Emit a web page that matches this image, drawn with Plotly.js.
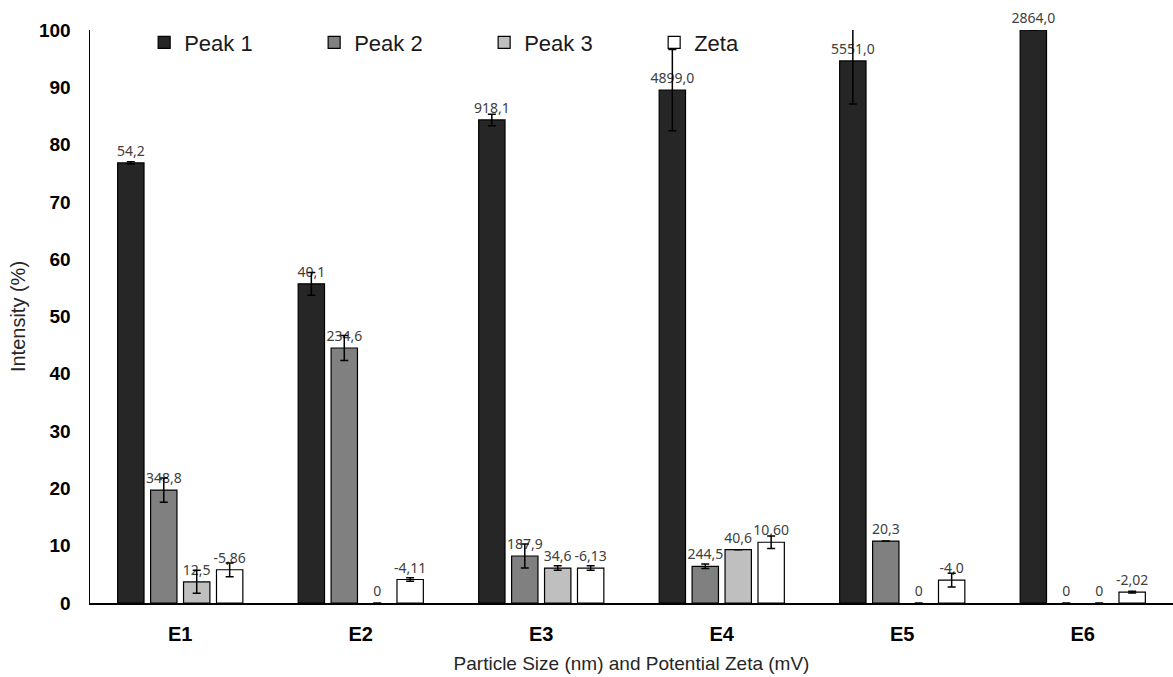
<!DOCTYPE html>
<html>
<head>
<meta charset="utf-8">
<script src="https://cdn.plot.ly/plotly-3.0.1.min.js"></script>
<style>html,body{margin:0;padding:0;background:#fff;}#chart{width:1173px;height:677px;}</style>
</head>
<body>
<div id="chart"></div>
<script>
const categories = ["E1", "E2", "E3", "E4", "E5", "E6"];
const seriesNames = ["Peak 1", "Peak 2", "Peak 3", "Zeta"];

const peak1 = [76.8, 55.7, 84.3, 89.5, 94.6, 100];
const peak1Err = [0.2, 2.0, 1.0, 7.1, 7.5, 0];
const peak1Labels = ["54,2", "40,1", "918,1", "4899,0", "5551,0", "2864,0"];

const peak2 = [19.7, 44.5, 8.2, 6.4, 10.8, 0];
const peak2Err = [2.1, 2.2, 2.1, 0.4, 0, 0];
const peak2Labels = ["348,8", "234,6", "187,9", "244,5", "20,3", "0"];

const peak3 = [3.7, 0, 6.1, 9.3, 0, 0];
const peak3Err = [2.0, 0, 0.4, 0, 0, 0];
const peak3Labels = ["12,5", "0", "34,6", "40,6", "0", "0"];

const zeta = [5.8, 4.1, 6.1, 10.6, 4.0, 1.9];
const zetaErr = [1.2, 0.3, 0.4, 1.1, 1.2, 0.15];
const zetaLabels = ["-5,86", "-4,11", "-6,13", "10,60", "-4,0", "-2,02"];

const colors = ["#262626", "#808080", "#bfbfbf", "#ffffff"];
const values = [peak1, peak2, peak3, zeta];
const errs = [peak1Err, peak2Err, peak3Err, zetaErr];
const labels = [peak1Labels, peak2Labels, peak3Labels, zetaLabels];

const traces = seriesNames.map((name, i) => ({
  type: "bar",
  name: name,
  x: categories,
  y: values[i],
  text: labels[i],
  texttemplate: "%{text}",
  textposition: "outside",
  constraintext: "none",
  cliponaxis: false,
  textfont: {family: "'Noto Sans', 'Open Sans', sans-serif", size: 14, color: "#404040"},
  marker: {color: colors[i], line: {color: "#000000", width: values[i].map(v => v > 0 ? 1.2 : 0)}},
  error_y: {type: "data", array: errs[i], visible: true, color: "#000000", thickness: 1.5, width: 4},
  hoverinfo: "skip"
}));

const layout = {
  width: 1173,
  height: 677,
  margin: {l: 90, r: 0, t: 30, b: 74},
  paper_bgcolor: "#ffffff",
  plot_bgcolor: "#ffffff",
  barmode: "group",
  bargap: 0.27,
  bargroupgap: 0.2,
  showlegend: true,
  legend: {
    orientation: "h",
    x: 0.05, xanchor: "left",
    y: 0.978, yanchor: "middle",
    font: {family: "Liberation Sans, Arial, sans-serif", size: 22, color: "#1a1a1a"},
    entrywidth: 125, entrywidthmode: "pixels",
    itemwidth: 30,
    bgcolor: "rgba(0,0,0,0)",
    traceorder: "normal"
  },
  xaxis: {
    type: "category",
    range: [-0.5, 5.5],
    showline: true, linecolor: "#000000", linewidth: 1.5,
    showgrid: false, zeroline: false,
    ticks: "outside", ticklen: 12, tickcolor: "rgba(0,0,0,0)",
    tickfont: {family: "Liberation Sans, Arial, sans-serif", size: 20, color: "#000000", weight: "bold"},
    title: {text: "Particle Size (nm) and Potential Zeta (mV)", font: {family: "Liberation Sans, Arial, sans-serif", size: 19, color: "#262626"}, standoff: 13}
  },
  yaxis: {
    range: [0, 100],
    dtick: 10,
    showline: true, linecolor: "#000000", linewidth: 1.5,
    showgrid: false, zeroline: false,
    ticks: "outside", ticklen: 14, tickcolor: "rgba(0,0,0,0)",
    tickfont: {family: "Liberation Sans, Arial, sans-serif", size: 19, color: "#000000", weight: "bold"},
    title: {text: "Intensity (%)", font: {family: "Liberation Sans, Arial, sans-serif", size: 20, color: "#262626"}, standoff: 8}
  }
};

Plotly.newPlot("chart", traces, layout, {displayModeBar: false, staticPlot: true});
</script>
</body>
</html>
